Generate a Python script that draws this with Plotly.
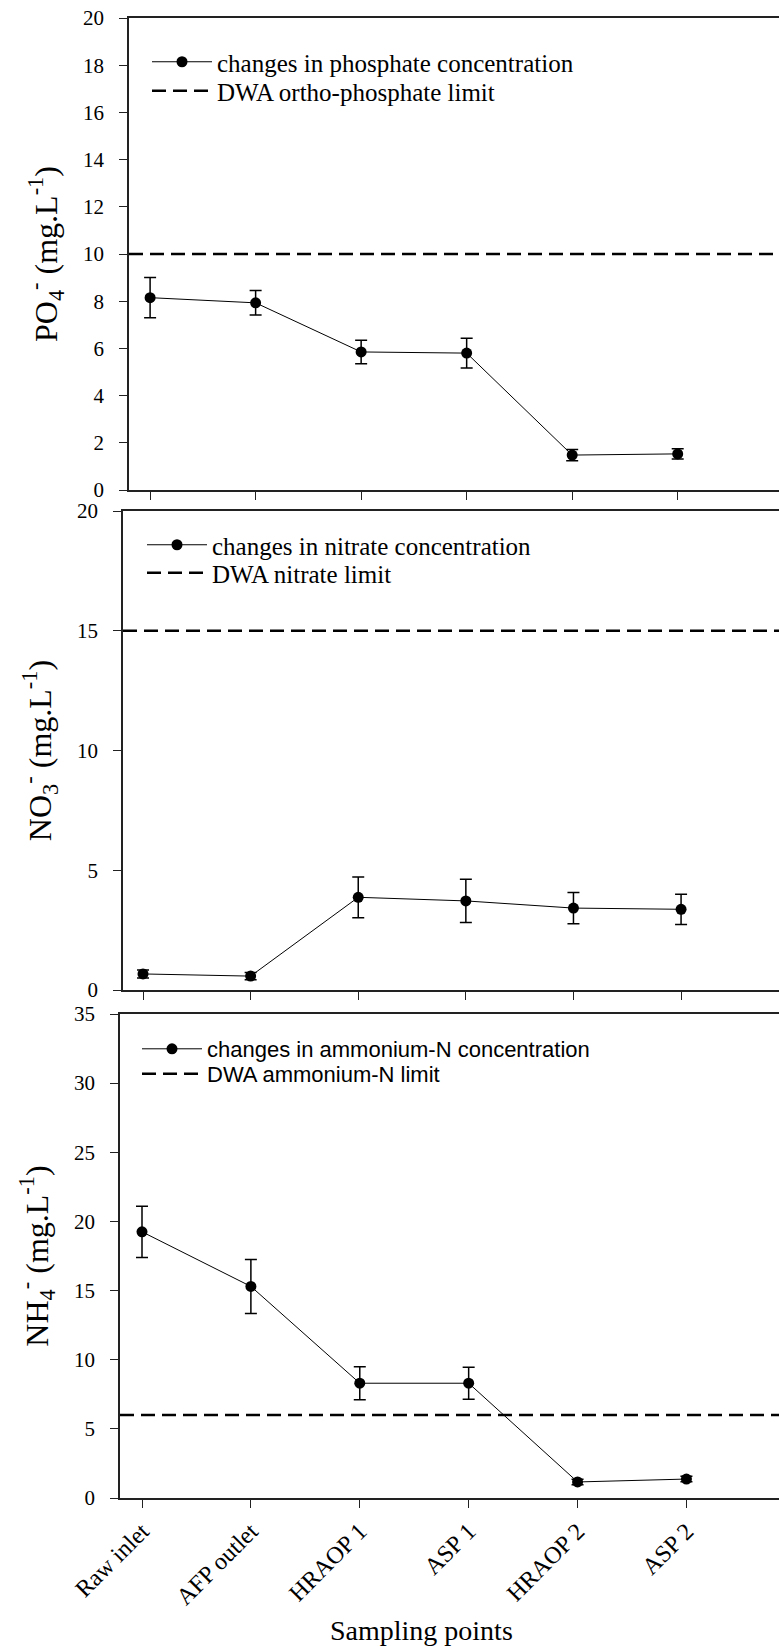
import plotly.graph_objects as go

# Sampling points along the treatment train
sampling_points = ["Raw inlet", "AFP outlet", "HRAOP 1", "ASP 1", "HRAOP 2", "ASP 2"]

# Phosphate (PO4-) mean concentration and standard deviation, mg/L
po4_mean = [8.15, 7.93, 5.85, 5.80, 1.48, 1.53]
po4_err = [0.85, 0.52, 0.50, 0.63, 0.24, 0.22]
po4_limit = 10

# Nitrate (NO3-) mean concentration and standard deviation, mg/L
no3_mean = [0.67, 0.58, 3.87, 3.72, 3.42, 3.37]
no3_err = [0.17, 0.15, 0.85, 0.90, 0.65, 0.63]
no3_limit = 15

# Ammonium-N (NH4-) mean concentration and standard deviation, mg/L
nh4_mean = [19.25, 15.3, 8.3, 8.3, 1.16, 1.37]
nh4_err = [1.85, 1.95, 1.2, 1.15, 0.2, 0.2]
nh4_limit = 6

W, H = 779, 1647
SERIF = "Liberation Serif, Times New Roman, serif"
SANS = "Liberation Sans, Arial, sans-serif"

# numeric positions for the sampling points, labelled with their names
xpos = list(range(len(sampling_points)))

panels = [
    dict(mean=po4_mean, err=po4_err, limit=po4_limit,
         name="changes in phosphate concentration",
         lname="DWA ortho-phosphate limit",
         ytitle="PO<sub>4</sub><sup>-</sup> (mg.L<sup>-1</sup>)",
         yrange=[0, 20], dtick=2, xrange=[-0.2, 5.96],
         px=(18, 490), left=129, legfont=SERIF, legsize=25,
         legrows=(62, 91), legx=147),
    dict(mean=no3_mean, err=no3_err, limit=no3_limit,
         name="changes in nitrate concentration",
         lname="DWA nitrate limit",
         ytitle="NO<sub>3</sub><sup>-</sup> (mg.L<sup>-1</sup>)",
         yrange=[0, 20], dtick=5, xrange=[-0.186, 5.91],
         px=(511, 990), left=123, legfont=SERIF, legsize=25,
         legrows=(545, 573), legx=142),
    dict(mean=nh4_mean, err=nh4_err, limit=nh4_limit,
         name="changes in ammonium-N concentration",
         lname="DWA ammonium-N limit",
         ytitle="NH<sub>4</sub><sup>-</sup> (mg.L<sup>-1</sup>)",
         yrange=[0, 35], dtick=5, xrange=[-0.202, 5.85],
         px=(1014, 1498), left=120, legfont=SANS, legsize=22,
         legrows=(1049, 1074), legx=137),
]

fig = go.Figure()
layout = dict(
    width=W, height=H,
    margin=dict(l=0, r=0, t=0, b=0, autoexpand=False),
    paper_bgcolor="white", plot_bgcolor="white",
    font=dict(family=SERIF, color="black", size=20),
    showlegend=True,
)

leg_idx = 0
for i, p in enumerate(panels, start=1):
    sfx = "" if i == 1 else str(i)
    xa, ya = "x" + sfx, "y" + sfx

    leg_names = []
    for _ in range(2):
        leg_idx += 1
        leg_names.append("legend" if leg_idx == 1 else "legend%d" % leg_idx)

    fig.add_trace(go.Scatter(
        x=xpos, y=p["mean"], name=p["name"],
        mode="lines+markers", xaxis=xa, yaxis=ya, legend=leg_names[0],
        line=dict(color="black", width=1),
        marker=dict(color="black", size=11),
        error_y=dict(type="data", array=p["err"], color="black",
                     thickness=1.5, width=6),
    ))
    fig.add_trace(go.Scatter(
        x=p["xrange"], y=[p["limit"], p["limit"]], name=p["lname"],
        mode="lines", xaxis=xa, yaxis=ya, legend=leg_names[1],
        line=dict(color="black", width=2.5, dash="14px,7px"),
    ))

    top_px, bot_px = p["px"]
    layout["xaxis" + sfx] = dict(
        domain=[p["left"] / W, 1], anchor=ya, automargin=False,
        range=p["xrange"], tickvals=xpos, ticktext=sampling_points,
        showline=True, linecolor="#222", linewidth=1.5, mirror=True,
        ticks="outside", ticklen=8, tickwidth=1.2, tickcolor="#222",
        showgrid=False, zeroline=False,
        showticklabels=(i == 3), tickangle=-45,
        tickfont=dict(family=SERIF, size=24, color="black"),
    )
    layout["yaxis" + sfx] = dict(
        domain=[1 - bot_px / H, 1 - top_px / H], anchor=xa, automargin=False,
        range=p["yrange"], dtick=p["dtick"],
        showline=True, linecolor="#222", linewidth=1.5,
        ticks="outside", ticklen=8, tickwidth=1.2, tickcolor="#222",
        ticklabelstandoff=11,
        showgrid=False, zeroline=False,
        tickfont=dict(family=SERIF, size=21, color="black"),
        title=dict(text=p["ytitle"], font=dict(family=SERIF, size=32),
                   standoff=16),
    )
    for ln, row in zip(leg_names, p["legrows"]):
        layout[ln] = dict(
            x=p["legx"] / W, y=1 - row / H, xanchor="left", yanchor="middle",
            bgcolor="rgba(0,0,0,0)", borderwidth=0,
            font=dict(family=p["legfont"], size=p["legsize"], color="black"),
            itemwidth=60,
        )

# shared x-axis caption below the lowest panel
layout["annotations"] = [dict(
    text="Sampling points", xref="paper", yref="paper",
    x=421 / W, y=1 - 1630 / H, xanchor="center", yanchor="middle",
    showarrow=False, font=dict(family=SERIF, size=28, color="black"),
)]

fig.update_layout(**layout)
fig.write_html("out.html")
